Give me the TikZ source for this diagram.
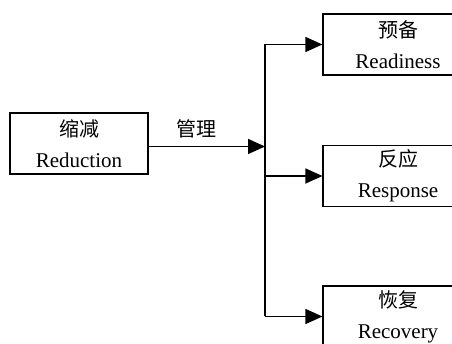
\documentclass[tikz,border=0pt]{standalone}
\usepackage{fontspec}
\setmainfont{Liberation Serif}
\newfontfamily\cjk{Noto Sans CJK SC}
\usetikzlibrary{arrows.meta}
\tikzset{
  stage/.style={draw, line width=1.2pt, minimum height=61pt, align=center,
    font=\fontsize{21}{31}\selectfont, inner sep=0pt},
  flow/.style={line width=1.5pt, -{Triangle[length=17pt,width=15pt]}}
}
\begin{document}
\begin{tikzpicture}[x=1pt,y=-1pt]
\clip (0,0) rectangle (452,344);
\node[stage, minimum width=138pt] (reduction) at (79,143.5) {{\cjk\fontsize{20}{31}\selectfont 缩减}\\Reduction};
\node[stage, minimum width=150pt] (readiness) at (398,44.5) {{\cjk\fontsize{20}{31}\selectfont 预备}\\Readiness};
\node[stage, minimum width=150pt] (response) at (398,176) {{\cjk\fontsize{20}{31}\selectfont 反应}\\Response};
\node[stage, minimum width=150pt] (recovery) at (398,316.5) {{\cjk\fontsize{20}{31}\selectfont 恢复}\\Recovery};
\coordinate (hub) at (265,146.5);
% Reduction verso il nodo centrale
\draw[flow] (reduction.east |- hub) -- node[above=4pt, pos=0.41, font=\fontsize{20}{24}\selectfont\cjk] {管理} (hub);
\draw[line width=1.5pt] (hub |- readiness.west) -- (hub |- recovery.west);
\foreach \s in {readiness,response,recovery}
  \draw[flow] (hub |- \s.west) -- (\s.west);
\end{tikzpicture}
\end{document}
